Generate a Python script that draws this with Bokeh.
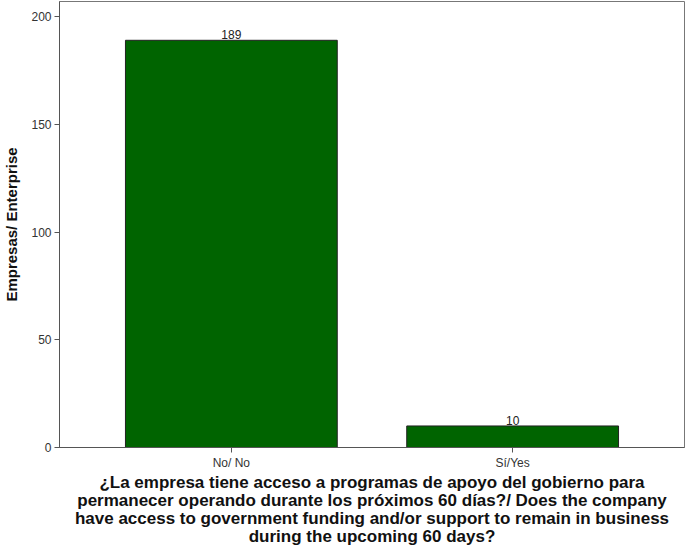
from bokeh.plotting import figure
from bokeh.models import ColumnDataSource, FactorRange, Range1d, FixedTicker
from bokeh.core.properties import value
from bokeh.embed import file_html
from bokeh.resources import INLINE

categories = ["No/ No", "Sí/Yes"]
counts = [189, 10]
y_ticks = [0, 50, 100, 150, 200]
y_label = "Empresas/ Enterprise"
x_label_lines = [
    "¿La empresa tiene acceso a programas de apoyo del gobierno para",
    "permanecer operando durante los próximos 60 días?/ Does the company",
    "have access to government funding and/or support to remain in business",
    "during the upcoming 60 days?",
]

src = ColumnDataSource(dict(cat=categories, n=counts, lab=[str(c) for c in counts]))

p = figure(
    width=686, height=548,
    x_range=FactorRange(factors=categories, range_padding=0.111, range_padding_units="absolute"),
    y_range=Range1d(0, 207),
    output_backend="svg", toolbar_location=None,
    min_border_left=49, min_border_right=2, min_border_top=1, min_border_bottom=0,
)
p.background_fill_color = "white"
p.border_fill_color = "white"
p.outline_line_color = "#777777"
p.outline_line_width = 1
p.xgrid.visible = False
p.ygrid.visible = False

p.vbar(x="cat", top="n", width=0.753, source=src, fill_color="#006400",
       line_color="#222222", line_width=1)
p.text(x="cat", y="n", text="lab", source=src, text_align="center",
       text_baseline="bottom", y_offset=-1, text_font=value("Liberation Sans"),
       text_font_size="12px", text_color="#222222")

for ax in (p.xaxis[0], p.yaxis[0]):
    ax.axis_line_color = "#555555"
    ax.major_tick_line_color = "#555555"
    ax.minor_tick_line_color = None
    ax.major_tick_out = 5
    ax.major_tick_in = 0
    ax.major_label_text_font = "Liberation Sans"
    ax.major_label_text_font_size = "12px"
    ax.major_label_text_color = "#333333"

p.yaxis.ticker = FixedTicker(ticks=y_ticks)
p.yaxis.axis_label = y_label
p.yaxis.axis_label_text_font = "Liberation Sans"
p.yaxis.axis_label_text_font_style = "bold"
p.yaxis.axis_label_text_font_size = "15px"
p.yaxis.axis_label_text_color = "#111111"
p.yaxis.axis_label_standoff = 8
p.yaxis.major_label_standoff = 3
p.xaxis.major_label_standoff = 3

p.xaxis.axis_label = "\n".join(x_label_lines)
p.xaxis.axis_label_text_font = "Liberation Sans"
p.xaxis.axis_label_text_font_style = "bold"
p.xaxis.axis_label_text_font_size = "17px"
p.xaxis.axis_label_text_line_height = 0.95
p.xaxis.axis_label_text_align = "center"
p.xaxis.axis_label_text_color = "#111111"
p.xaxis.axis_label_standoff = 0

open("out.html", "w").write(file_html(p, INLINE))
